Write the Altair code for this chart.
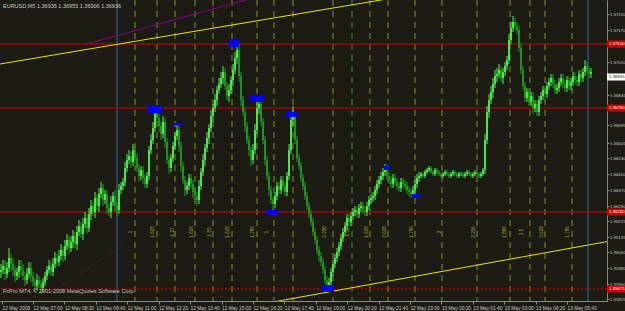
import altair as alt
import pandas as pd

# ---------------- data ----------------
first_open = 1.3596
bar_close = [
    1.3597, 1.3599, 1.3595, 1.3598, 1.3603, 1.3600, 1.3597, 1.3594, 1.3596, 1.3599,
    1.3597, 1.3594, 1.3592, 1.3595, 1.3598, 1.3594, 1.3591, 1.3589, 1.3592, 1.3590,
    1.3588, 1.3591, 1.3594, 1.3597, 1.3599, 1.3596, 1.3600, 1.3603, 1.3601, 1.3604,
    1.3607, 1.3604, 1.3609, 1.3612, 1.3608, 1.3611, 1.3614, 1.3610, 1.3616, 1.3619,
    1.3615, 1.3620, 1.3623, 1.3618, 1.3625, 1.3629, 1.3626, 1.3633, 1.3629, 1.3635,
    1.3638, 1.3632, 1.3635, 1.3628, 1.3626, 1.3631, 1.3634, 1.3629, 1.3627, 1.3637,
    1.3639, 1.3641, 1.3648, 1.3652, 1.3654, 1.3651, 1.3657, 1.3653, 1.3648, 1.3644,
    1.3647, 1.3643, 1.3640, 1.3644, 1.3657, 1.3662, 1.3668, 1.3675, 1.3673, 1.3669,
    1.3665, 1.3671, 1.3661, 1.3652, 1.3648, 1.3653, 1.3659, 1.3664, 1.3667, 1.3659,
    1.3649, 1.3642, 1.3637, 1.3639, 1.3643, 1.3640, 1.3636, 1.3634, 1.3632, 1.3639,
    1.3646, 1.3652, 1.3658, 1.3663, 1.3668, 1.3674, 1.3678, 1.3682, 1.3687, 1.3690,
    1.3693, 1.3696, 1.3689, 1.3684, 1.3687, 1.3692, 1.3697, 1.3703, 1.3707, 1.3694,
    1.3682, 1.3676, 1.3669, 1.3662, 1.3657, 1.3652, 1.3657, 1.3667, 1.3678, 1.3680,
    1.3671, 1.3662, 1.3652, 1.3644, 1.3637, 1.3632, 1.3630, 1.3634, 1.3639, 1.3637,
    1.3642, 1.3639, 1.3636, 1.3644, 1.3657, 1.3672, 1.3674, 1.3662, 1.3653, 1.3649,
    1.3643, 1.3639, 1.3634, 1.3629, 1.3625, 1.3621, 1.3616, 1.3612, 1.3607, 1.3604,
    1.3601, 1.3597, 1.3592, 1.3589, 1.3591, 1.3596, 1.3600, 1.3603, 1.3606, 1.3609,
    1.3613, 1.3616, 1.3619, 1.3623, 1.3621, 1.3624, 1.3626, 1.3627, 1.3625, 1.3628,
    1.3629, 1.3627, 1.3626, 1.3629, 1.3632, 1.3633, 1.3634, 1.3637, 1.3640, 1.3642,
    1.3644, 1.3646, 1.3647, 1.3644, 1.3642, 1.3640, 1.3643, 1.3641, 1.3639, 1.3638,
    1.3641, 1.3640, 1.3639, 1.3637, 1.3636, 1.3635, 1.3637, 1.3640, 1.3643, 1.3644,
    1.3645, 1.3644, 1.3646, 1.3647, 1.3648, 1.3646, 1.3645, 1.3647, 1.3646, 1.3645,
    1.3644, 1.3645, 1.3646, 1.3645, 1.3644, 1.3645, 1.3646, 1.3645, 1.3644, 1.3645,
    1.3645, 1.3644, 1.3645, 1.3646, 1.3645, 1.3644, 1.3645, 1.3646, 1.3645, 1.3644,
    1.3645, 1.3647, 1.3662, 1.3676, 1.3682, 1.3686, 1.3690, 1.3694, 1.3695, 1.3697,
    1.3693, 1.3696, 1.3699, 1.3702, 1.3712, 1.3718, 1.3721, 1.3719, 1.3717, 1.3708,
    1.3697, 1.3689, 1.3683, 1.3686, 1.3681, 1.3684, 1.3678, 1.3680, 1.3676, 1.3682,
    1.3684, 1.3687, 1.3685, 1.3689, 1.3691, 1.3693, 1.3690, 1.3687, 1.3688, 1.3691,
    1.3693, 1.3690, 1.3688, 1.3692, 1.3689, 1.3691, 1.3694, 1.3692, 1.3691, 1.3695,
    1.3693, 1.3696, 1.3699, 1.3697, 1.3695, 1.3696,
]
bar_high = [
    1.3600, 1.3602, 1.3602, 1.3601, 1.3608, 1.3605, 1.3603, 1.3599, 1.3598, 1.3602,
    1.3602, 1.3600, 1.3596, 1.3598, 1.3601, 1.3601, 1.3596, 1.3593, 1.3595, 1.3594,
    1.3592, 1.3593, 1.3596, 1.3599, 1.3602, 1.3601, 1.3603, 1.3606, 1.3605, 1.3607,
    1.3610, 1.3609, 1.3612, 1.3615, 1.3614, 1.3614, 1.3617, 1.3616, 1.3619, 1.3622,
    1.3621, 1.3623, 1.3626, 1.3625, 1.3628, 1.3632, 1.3631, 1.3636, 1.3635, 1.3638,
    1.3641, 1.3640, 1.3637, 1.3637, 1.3630, 1.3634, 1.3636, 1.3637, 1.3631, 1.3640,
    1.3641, 1.3643, 1.3651, 1.3655, 1.3657, 1.3656, 1.3660, 1.3659, 1.3655, 1.3650,
    1.3649, 1.3649, 1.3645, 1.3646, 1.3659, 1.3665, 1.3671, 1.3679, 1.3677, 1.3675,
    1.3671, 1.3674, 1.3673, 1.3663, 1.3654, 1.3655, 1.3661, 1.3666, 1.3670, 1.3669,
    1.3661, 1.3651, 1.3644, 1.3641, 1.3645, 1.3645, 1.3642, 1.3638, 1.3636, 1.3642,
    1.3648, 1.3655, 1.3660, 1.3666, 1.3670, 1.3677, 1.3680, 1.3685, 1.3689, 1.3693,
    1.3696, 1.3699, 1.3698, 1.3691, 1.3690, 1.3694, 1.3700, 1.3706, 1.3711, 1.3710,
    1.3696, 1.3684, 1.3678, 1.3671, 1.3664, 1.3659, 1.3660, 1.3670, 1.3681, 1.3683,
    1.3682, 1.3673, 1.3664, 1.3654, 1.3646, 1.3639, 1.3634, 1.3636, 1.3641, 1.3641,
    1.3644, 1.3644, 1.3641, 1.3646, 1.3660, 1.3675, 1.3679, 1.3676, 1.3664, 1.3655,
    1.3651, 1.3645, 1.3641, 1.3636, 1.3631, 1.3627, 1.3623, 1.3618, 1.3614, 1.3609,
    1.3606, 1.3603, 1.3599, 1.3594, 1.3593, 1.3598, 1.3602, 1.3605, 1.3608, 1.3611,
    1.3615, 1.3618, 1.3621, 1.3625, 1.3625, 1.3626, 1.3628, 1.3629, 1.3629, 1.3630,
    1.3631, 1.3631, 1.3629, 1.3631, 1.3634, 1.3635, 1.3636, 1.3639, 1.3642, 1.3644,
    1.3646, 1.3648, 1.3650, 1.3649, 1.3646, 1.3644, 1.3645, 1.3645, 1.3643, 1.3641,
    1.3643, 1.3643, 1.3642, 1.3641, 1.3639, 1.3638, 1.3639, 1.3642, 1.3645, 1.3646,
    1.3646, 1.3646, 1.3647, 1.3648, 1.3649, 1.3649, 1.3647, 1.3648, 1.3648, 1.3647,
    1.3646, 1.3646, 1.3647, 1.3647, 1.3646, 1.3646, 1.3647, 1.3647, 1.3646, 1.3646,
    1.3646, 1.3646, 1.3646, 1.3647, 1.3647, 1.3646, 1.3646, 1.3647, 1.3647, 1.3646,
    1.3646, 1.3648, 1.3665, 1.3679, 1.3685, 1.3689, 1.3693, 1.3697, 1.3698, 1.3700,
    1.3699, 1.3698, 1.3701, 1.3704, 1.3715, 1.3721, 1.3724, 1.3723, 1.3721, 1.3719,
    1.3710, 1.3699, 1.3691, 1.3688, 1.3688, 1.3686, 1.3686, 1.3682, 1.3682, 1.3684,
    1.3686, 1.3689, 1.3689, 1.3691, 1.3693, 1.3695, 1.3695, 1.3692, 1.3690, 1.3693,
    1.3695, 1.3695, 1.3692, 1.3694, 1.3694, 1.3693, 1.3696, 1.3696, 1.3694, 1.3697,
    1.3697, 1.3698, 1.3702, 1.3701, 1.3699, 1.3698,
]
bar_low = [
    1.3593, 1.3595, 1.3592, 1.3593, 1.3596, 1.3597, 1.3594, 1.3591, 1.3592, 1.3593,
    1.3594, 1.3592, 1.3589, 1.3590, 1.3593, 1.3591, 1.3589, 1.3586, 1.3587, 1.3588,
    1.3585, 1.3586, 1.3589, 1.3592, 1.3595, 1.3594, 1.3594, 1.3598, 1.3599, 1.3599,
    1.3602, 1.3601, 1.3602, 1.3607, 1.3605, 1.3606, 1.3608, 1.3608, 1.3607, 1.3614,
    1.3613, 1.3612, 1.3618, 1.3615, 1.3616, 1.3622, 1.3624, 1.3623, 1.3627, 1.3626,
    1.3633, 1.3629, 1.3630, 1.3625, 1.3624, 1.3623, 1.3629, 1.3626, 1.3624, 1.3625,
    1.3635, 1.3637, 1.3639, 1.3646, 1.3650, 1.3648, 1.3649, 1.3650, 1.3646, 1.3641,
    1.3642, 1.3640, 1.3638, 1.3638, 1.3642, 1.3655, 1.3660, 1.3666, 1.3671, 1.3666,
    1.3662, 1.3663, 1.3658, 1.3650, 1.3645, 1.3646, 1.3651, 1.3657, 1.3662, 1.3656,
    1.3646, 1.3640, 1.3634, 1.3635, 1.3637, 1.3638, 1.3633, 1.3632, 1.3629, 1.3630,
    1.3637, 1.3644, 1.3649, 1.3656, 1.3660, 1.3666, 1.3671, 1.3676, 1.3679, 1.3685,
    1.3688, 1.3690, 1.3687, 1.3682, 1.3681, 1.3685, 1.3689, 1.3695, 1.3700, 1.3691,
    1.3679, 1.3674, 1.3666, 1.3660, 1.3654, 1.3649, 1.3650, 1.3655, 1.3665, 1.3675,
    1.3669, 1.3660, 1.3649, 1.3642, 1.3634, 1.3630, 1.3627, 1.3628, 1.3632, 1.3635,
    1.3635, 1.3637, 1.3634, 1.3634, 1.3642, 1.3655, 1.3669, 1.3660, 1.3651, 1.3647,
    1.3641, 1.3637, 1.3632, 1.3627, 1.3623, 1.3619, 1.3614, 1.3610, 1.3605, 1.3601,
    1.3599, 1.3595, 1.3590, 1.3586, 1.3587, 1.3589, 1.3594, 1.3598, 1.3601, 1.3604,
    1.3607, 1.3611, 1.3614, 1.3617, 1.3619, 1.3619, 1.3622, 1.3624, 1.3623, 1.3623,
    1.3626, 1.3625, 1.3624, 1.3624, 1.3627, 1.3630, 1.3631, 1.3632, 1.3635, 1.3638,
    1.3640, 1.3642, 1.3644, 1.3642, 1.3640, 1.3638, 1.3638, 1.3639, 1.3637, 1.3636,
    1.3636, 1.3638, 1.3637, 1.3635, 1.3634, 1.3633, 1.3633, 1.3635, 1.3638, 1.3641,
    1.3643, 1.3643, 1.3643, 1.3645, 1.3646, 1.3645, 1.3644, 1.3644, 1.3645, 1.3644,
    1.3643, 1.3643, 1.3644, 1.3644, 1.3643, 1.3643, 1.3644, 1.3644, 1.3643, 1.3643,
    1.3644, 1.3643, 1.3643, 1.3644, 1.3644, 1.3643, 1.3643, 1.3644, 1.3644, 1.3643,
    1.3643, 1.3644, 1.3645, 1.3660, 1.3673, 1.3680, 1.3683, 1.3688, 1.3691, 1.3693,
    1.3691, 1.3690, 1.3694, 1.3697, 1.3700, 1.3710, 1.3716, 1.3717, 1.3715, 1.3706,
    1.3695, 1.3687, 1.3681, 1.3681, 1.3679, 1.3679, 1.3675, 1.3676, 1.3674, 1.3674,
    1.3680, 1.3682, 1.3683, 1.3683, 1.3687, 1.3689, 1.3688, 1.3685, 1.3685, 1.3686,
    1.3689, 1.3688, 1.3686, 1.3686, 1.3687, 1.3687, 1.3689, 1.3690, 1.3689, 1.3689,
    1.3691, 1.3691, 1.3694, 1.3695, 1.3693, 1.3693,
]

price_ticks = [1.37250, 1.37170, 1.37010, 1.36845, 1.36695, 1.36605, 1.36530,
               1.36450, 1.36370, 1.36290, 1.36215, 1.36135, 1.36060, 1.35980,
               1.35900, 1.35825]

time_tick_idx = [0.5, 16, 31.7, 47.4, 63.1, 78.8, 94.55, 110.25, 125.95, 141.65,
                 157.35, 173.05, 188.75, 204.45, 220.2, 235.9, 251.6, 267.3, 283]
time_tick_labels = ["12 May 2009", "12 May 07:00", "12 May 08:20", "12 May 09:40",
                    "12 May 11:00", "12 May 12:20", "12 May 13:40", "12 May 15:00",
                    "12 May 16:20", "12 May 17:40", "12 May 19:00", "12 May 20:20",
                    "12 May 21:40", "12 May 23:00", "13 May 00:20", "13 May 01:40",
                    "13 May 03:00", "13 May 04:20", "13 May 05:40"]

dashed_idx = [67, 78, 87, 97, 106, 115.5, 128, 136.5, 146, 166, 184.5, 193.5,
              207, 220.5, 238, 254.5, 264.5, 272, 285.5]
green_dashed_idx = [175.5]
blue_idx = [58, 293.5]

# small rotated ratio labels beside the time lines
ratio_idx = [65, 76, 86, 95.5, 104.5, 113.5, 126, 133, 162, 173.5, 183, 192,
             205.5, 219.5, 236.5, 252, 260.5, 270.5, 283.5]
ratio_txt = ["1", "1.618", "1.27", "1.618", "1.50", "1.618", "1.786", "1",
             "2.236", "1.50", "1.618", "2.618", "1.786", "2", "2.236", "1.886",
             "3.5", "3.618", "1.786"]

red_levels = [1.37100, 1.36780, 1.36260]
red_dashed_levels = [1.35875]
current_price = 1.36935

# trend lines (time index, price)
upper_i = [-0.5, 200]
upper_p = [1.3700, 1.37337]
lower_i = [125, 303]
lower_p = [1.35790, 1.36112]
purple_i = [42, 126]
purple_p = [1.37098, 1.37330]
purple_dot_i = [23.5, 61]
purple_dot_p = [1.35845, 1.36095]

# blue object markers: index range and price range
mk_i1 = [73.5, 86, 114, 124.5, 142.5, 133, 160.5, 191.5, 205.5]
mk_i2 = [80.5, 91, 119, 131.5, 148, 138.5, 166.5, 194.5, 209.5]
mk_p1 = [1.36790, 1.36705, 1.37120, 1.36840, 1.36760, 1.36270, 1.35895, 1.36490, 1.36350]
mk_p2 = [1.36755, 1.36695, 1.37085, 1.36810, 1.36735, 1.36245, 1.35860, 1.36470, 1.36330]

header_text = "EURUSD,M5  1.36935 1.36955 1.36906 1.36936"
footer_text = "FxPro MT4, © 2001-2008 MetaQuotes Software Corp."

# ---------------- frames ----------------
opens = [first_open] + bar_close[:-1]
df = pd.DataFrame({"i": list(range(len(bar_close))), "open": opens, "close": bar_close,
                   "high": bar_high, "low": bar_low})
df["dir"] = ["up" if c >= o else "down" for o, c in zip(opens, bar_close)]

BG = "#1c1c15"
FONT = "Liberation Sans"
AX = "#8a8a8a"
TXT = "#c8c8c8"
xs = alt.Scale(domain=[-0.5, 303], nice=False, zero=False)
ys = alt.Scale(domain=[1.35815, 1.3732], nice=False, zero=False)

label_expr = ("[" + ",".join("'%s'" % s for s in time_tick_labels) + "][indexof(["
              + ",".join(str(v) for v in time_tick_idx) + "], datum.value)]")

xaxis = alt.Axis(values=time_tick_idx, labelExpr=label_expr, orient="bottom",
                 labelAlign="left", labelBaseline="top", labelPadding=1,
                 tickSize=3, tickColor=AX, domainColor=AX,
                 labelColor=TXT, labelFont=FONT, labelFontSize=4.8,
                 labelOverlap=False, labelFlush=False, grid=False, title=None)
yaxis = alt.Axis(values=price_ticks, format=".5f", orient="right",
                 tickSize=2, tickColor=AX, domainColor=AX,
                 labelColor=TXT, labelFont=FONT, labelFontSize=4.3,
                 labelPadding=0.5, labelOverlap=False, labelFlush=False,
                 grid=False, title=None)

X = lambda f: alt.X(f, scale=xs, axis=xaxis)
Y = lambda f: alt.Y(f, scale=ys, axis=yaxis)

vdash = alt.Chart(pd.DataFrame({"i": dashed_idx})).mark_rule(
    color="#8c8c2a", strokeDash=[6, 5], strokeWidth=1).encode(x=X("i:Q"))
gdash = alt.Chart(pd.DataFrame({"i": green_dashed_idx})).mark_rule(
    color="#3c8c3c", strokeDash=[6, 5], strokeWidth=1).encode(x=X("i:Q"))
vblue = alt.Chart(pd.DataFrame({"i": blue_idx})).mark_rule(
    color="#2a6f97", strokeWidth=1).encode(x=X("i:Q"))

ratio = alt.Chart(pd.DataFrame({"i": ratio_idx, "t": ratio_txt})).mark_text(
    angle=270, align="center", baseline="middle", font=FONT, fontSize=4.5,
    color="#a6a632").encode(x=X("i:Q"), y=alt.value(232), text="t:N")

cscale = alt.Scale(domain=["up", "down"], range=["#50f050", "#1f9a1f"])
wicks = alt.Chart(df).mark_rule(strokeWidth=1).encode(
    x=X("i:Q"), y=Y("low:Q"), y2="high:Q",
    color=alt.Color("dir:N", scale=cscale, legend=None))
bodies = alt.Chart(df).mark_rule(strokeWidth=1.8).encode(
    x=X("i:Q"), y=Y("open:Q"), y2="close:Q",
    color=alt.Color("dir:N", scale=cscale, legend=None))

hred = alt.Chart(pd.DataFrame({"p": red_levels})).mark_rule(
    color="#d40000", strokeWidth=1).encode(y=Y("p:Q"))
hred_d = alt.Chart(pd.DataFrame({"p": red_dashed_levels})).mark_rule(
    color="#d40000", strokeWidth=1, strokeDash=[2, 2]).encode(y=Y("p:Q"))


def tline(ii, pp, color, dash=None):
    d = pd.DataFrame({"i": ii, "p": pp})
    kw = dict(color=color, strokeWidth=1, clip=True)
    if dash:
        kw["strokeDash"] = dash
    return alt.Chart(d).mark_line(**kw).encode(x=X("i:Q"), y=Y("p:Q"))


up_line = tline(upper_i, upper_p, "#e6e600")
lo_line = tline(lower_i, lower_p, "#e6e600")
pu_line = tline(purple_i, purple_p, "#8a008a")
pu_dot = tline(purple_dot_i, purple_dot_p, "#7a1050", dash=[1, 2])

mk = pd.DataFrame({"a": mk_i1, "b": mk_i2, "p1": mk_p1, "p2": mk_p2})
markers = alt.Chart(mk).mark_rect(color="#0000ff").encode(
    x=X("a:Q"), x2="b:Q", y=Y("p1:Q"), y2="p2:Q")

all_red = red_levels + red_dashed_levels
rl = pd.DataFrame({"p": all_red, "t": ["%.5f" % v for v in all_red]})
red_box = alt.Chart(rl).mark_tick(orient="horizontal", size=18, thickness=7,
                                  color="#d40000", opacity=1).encode(
    x=alt.value(616), y=Y("p:Q"))
red_txt = alt.Chart(rl).mark_text(align="left", baseline="middle", font=FONT,
                                  fontSize=4.3, color="#ffffff").encode(
    x=alt.value(609), y=Y("p:Q"), text="t:N")

cp = pd.DataFrame({"p": [current_price], "t": ["%.5f" % current_price]})
cp_box = alt.Chart(cp).mark_tick(orient="horizontal", size=18, thickness=7,
                                 color="#ffffff", opacity=1).encode(
    x=alt.value(616), y=Y("p:Q"))
cp_txt = alt.Chart(cp).mark_text(align="left", baseline="middle", font=FONT,
                                 fontSize=4.3, color="#000000").encode(
    x=alt.value(609), y=Y("p:Q"), text="t:N")

hdr = alt.Chart(pd.DataFrame({"t": [header_text]})).mark_text(
    align="left", baseline="middle", font=FONT, fontSize=5.5, color=TXT).encode(
    x=alt.value(3), y=alt.value(6), text="t:N")
ftr = alt.Chart(pd.DataFrame({"t": [footer_text]})).mark_text(
    align="left", baseline="middle", font=FONT, fontSize=5.5, color=TXT).encode(
    x=alt.value(3), y=alt.value(291), text="t:N")

chart = alt.layer(
    vdash, gdash, vblue, ratio, hred, hred_d, pu_dot, wicks, bodies, pu_line,
    up_line, lo_line, markers, red_box, red_txt, cp_box, cp_txt, hdr, ftr,
).properties(
    width=607, height=301,
    padding={"left": 0, "top": 0, "right": 18, "bottom": 10},
    autosize="none", background=BG,
).configure_view(stroke=None, fill=BG)

chart.save("out.html", embed_options={"renderer": "svg", "actions": False})
